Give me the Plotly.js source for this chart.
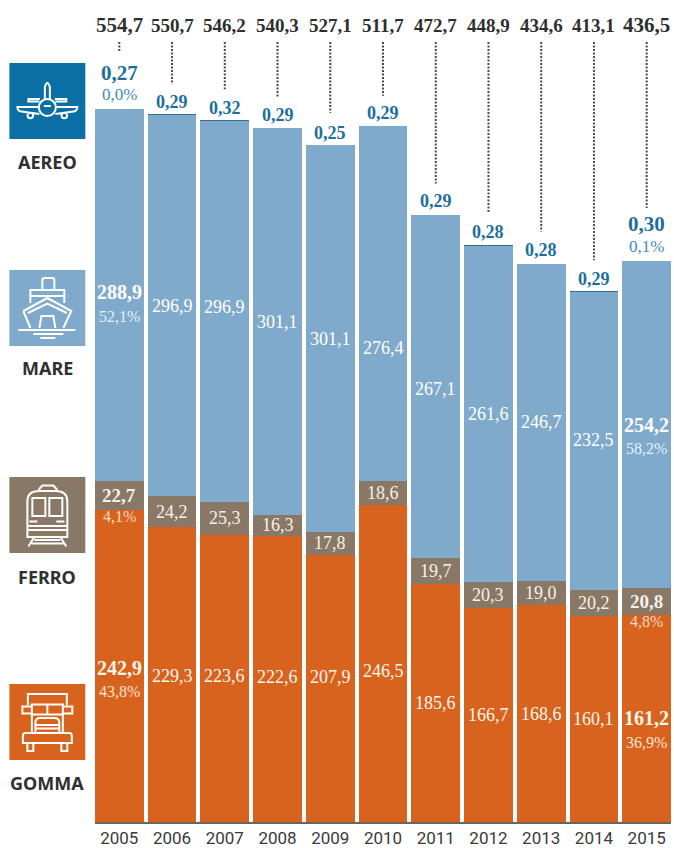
<!DOCTYPE html>
<html lang="it">
<head>
<meta charset="utf-8">
<title>Trasporto merci per modalità</title>
<script src="https://cdn.plot.ly/plotly-3.0.1.min.js"></script>
<style>html,body{margin:0;padding:0;background:#fff}#chart{width:674px;height:848px}</style>
</head>
<body>
<div id="chart"></div>
<script>
// Traffico merci per modalità di trasporto, 2005-2015
const years = ["2005","2006","2007","2008","2009","2010","2011","2012","2013","2014","2015"];
const gomma = [242.9,229.3,223.6,222.6,207.9,246.5,185.6,166.7,168.6,160.1,161.2];
const ferro = [22.7,24.2,25.3,16.3,17.8,18.6,19.7,20.3,19.0,20.2,20.8];
const mare = [288.9,296.9,296.9,301.1,301.1,276.4,267.1,261.6,246.7,232.5,254.2];
const aereo = [0.27,0.29,0.32,0.29,0.25,0.29,0.29,0.28,0.28,0.29,0.30];
const totali = ["554,7","550,7","546,2","540,3","527,1","511,7","472,7","448,9","434,6","413,1","436,5"];
const quote2005 = {aereo:"0,0%", mare:"52,1%", ferro:"4,1%", gomma:"43,8%"};
const quote2015 = {aereo:"0,1%", mare:"58,2%", ferro:"4,8%", gomma:"36,9%"};

// Geometria della pagina e dell'area del grafico
const W = 674, H = 848, L = 94.7, R = 671.3, BASE = 822, PX_PER_UNIT = 1.285;
const pw = R - L;
const paperX = px => (px - L) / pw;
const paperY = py => 1 - py / BASE;
const dataY = py => (BASE - py) / PX_PER_UNIT;

const COL = {aereo:"#0b6ea4", mare:"#7faacb", ferro:"#8a7867", gomma:"#d8631e", top:"#2f6f96",
             ink:"#2f2f2f", teal:"#1c6f9b", tealSoft:"#3c8cb6"};
const SERIF = "'Liberation Serif', serif";
const SANS = "'Noto Sans', sans-serif";

const fmt = (v, d) => v.toFixed(d).replace(".", ",");

const bar = (name, y, color) => ({type:"bar", name, x:years, y, marker:{color, line:{width:0}}, hoverinfo:"skip"});
const traces = [bar("Gomma",gomma,COL.gomma), bar("Ferro",ferro,COL.ferro), bar("Mare",mare,COL.mare), bar("Aereo",aereo,COL.top)];

const stackTop = years.map((_, i) => gomma[i] + ferro[i] + mare[i] + aereo[i]);
const mareBase = years.map((_, i) => gomma[i] + ferro[i]);

const annotations = [];
const label = (i, y, text, size, color, bold, yshift) => annotations.push({
  xref:"x", yref:"y", x:i, y, text: bold ? "<b>" + text + "</b>" : text, showarrow:false,
  xanchor:"center", yanchor:"middle", yshift: yshift || 0,
  font:{family:SERIF, size, color}
});

// Scostamenti verticali in pixel delle etichette rispetto al centro del segmento
const shiftMare  = [3,-1,4,0,0,-44,-2,0,0,1,0];
const shiftGomma = [-2,-1,2,2,11,-7,0,0,0,0,0];
const gapAereo   = [36,12,12,13,12,13,14,13,14,12,37];
const gapLeader  = [57,30,31,31,32,30,31,33,32,31,53];

years.forEach((yr, i) => {
  const big = i === 0 || i === 10;
  label(i, dataY(25), totali[i], big ? 21 : 19, COL.ink, true);
  label(i, stackTop[i], fmt(aereo[i], 2), big ? 21 : 18, COL.teal, true, gapAereo[i]);
  label(i, mareBase[i] + mare[i] / 2, fmt(mare[i], 1), big ? 20 : 18, "#ffffff", big, shiftMare[i]);
  label(i, gomma[i] + ferro[i] / 2, fmt(ferro[i], 1), big ? 19 : 18, "#f6f1ea", big, 0);
  label(i, gomma[i] / 2, fmt(gomma[i], 1), big ? 20 : 18, "#fff6ee", big, shiftGomma[i]);
});

[[quote2005, 0, 3, -2], [quote2015, 10, 0, 0]].forEach(([q, i, sm, sg]) => {
  label(i, stackTop[i], q.aereo, 17, COL.tealSoft, false, 15);
  label(i, mareBase[i] + mare[i] / 2, q.mare, 16, "#e6f0f7", false, sm - 24);
  label(i, gomma[i], q.ferro, 16, "#fbd9c0", false, -7);
  label(i, gomma[i] / 2, q.gomma, 16, "#fbe4d2", false, sg - 24);
});

// Filetti punteggiati dal totale al segmento aereo
const shapes = years.map((yr, i) => ({
  type:"line", xref:"x", yref:"y", x0:i, x1:i,
  y0:dataY(42), y1:stackTop[i] + gapLeader[i] / PX_PER_UNIT,
  line:{color:"#4a4a4a", width:2, dash:"2px,1.5px"}
}));

// Riquadri e pittogrammi della colonna sinistra
const TILE = 76, TILE_X = 9;
const circle = (cx, cy, r) => {
  const k = 0.552 * r;
  return `M${cx - r} ${cy} C${cx - r} ${cy - k} ${cx - k} ${cy - r} ${cx} ${cy - r} ` +
         `C${cx + k} ${cy - r} ${cx + r} ${cy - k} ${cx + r} ${cy} ` +
         `C${cx + r} ${cy + k} ${cx + k} ${cy + r} ${cx} ${cy + r} ` +
         `C${cx - k} ${cy + r} ${cx - r} ${cy + k} ${cx - r} ${cy} Z `;
};
const icons = {
  aereo: "M35.5 36 L35.5 24 Q38 16 40.5 24 L40.5 36 M30.5 36 L19 36 L19 38.5 L30 38.5 M45.5 36 L57 36 L57 38.5 L46 38.5 " +
         circle(38, 44.5, 8.5) + "M34.5 43 L41.5 43 M29.5 44 L8 44 Q8 48 12 48.5 L30 51 M46.5 44 L68 44 Q68 48 64 48.5 L46 51 " +
         circle(21, 52.5, 2.8) + circle(55, 52.5, 2.8),
  mare: "M33 20 L33 10 Q33 8 35 8 L43 8 Q45 8 45 10 L45 20 M21 33 L21 20 L55 20 L55 33 M22 26 L54 26 " +
        "M14 41 L38 28 L62 41 L54 58 M14 41 L21 58 M18.5 43 L38 33.5 L57.5 43 M30 58 L32 46 L44 46 L46 58 " +
        "M9 60 L66 60 M24 64 L54 64 M31 68 L46 68",
  ferro: "M29 13 L33 8.5 L44 8.5 L48 13 M18 60 L18 24 Q18 14 30 14 L46 14 Q58 14 58 24 L58 60 Z " +
         "M23 21 L36 21 L36 39 L23 39 Z M40 21 L53 21 L53 39 L40 39 Z " +
         "M20 44.5 L28 44.5 M47 44.5 L55 44.5 M18 49 L58 49 M18 53 L58 53 " +
         "M25 60 L19 69.5 M51 60 L57 69.5 M25 63 L51 63 M22 66.5 L54 66.5",
  gomma: "M18.5 21 L18.5 10 L57.5 10 L57.5 21 M22.5 20.5 L53.5 20.5 L53.5 30.5 L22.5 30.5 Z M38 20.5 L38 30.5 " +
         "M22.5 22.5 L13 22.5 L13 29.5 L22.5 29.5 M53.5 22.5 L63 22.5 L63 29.5 L53.5 29.5 " +
         "M22.5 30.5 L22.5 49 M53.5 30.5 L53.5 49 " +
         "M26 49 L26 39 Q26 34 31 34 L45 34 Q50 34 50 39 L50 49 M26 41 L50 41 M26 44.5 L50 44.5 " +
         "M22.5 49 L16 49 Q13.5 49 13.5 52 L13.5 59 L62.5 59 L62.5 52 Q62.5 49 60 49 L22.5 49 " +
         "M18 59 L18 67 L24 67 L24 59 M52 59 L52 67 L58 67 L58 59"
};
const toPaper = (d, ox, oy) => d.replace(/(-?[\d.]+) (-?[\d.]+)/g, (_, a, b) =>
  paperX(+a + ox).toFixed(5) + " " + paperY(+b + oy).toFixed(5));

const legend = [
  {key:"aereo", top:63,  label:"AEREO", ly:162},
  {key:"mare",  top:270, label:"MARE",  ly:368},
  {key:"ferro", top:477, label:"FERRO", ly:577},
  {key:"gomma", top:684, label:"GOMMA", ly:783}
];
legend.forEach(t => {
  shapes.push({type:"rect", xref:"paper", yref:"paper",
    x0:paperX(TILE_X), x1:paperX(TILE_X + TILE), y0:paperY(t.top), y1:paperY(t.top + TILE),
    fillcolor:COL[t.key], line:{width:0}});
  shapes.push({type:"path", xref:"paper", yref:"paper", path:toPaper(icons[t.key], TILE_X, t.top),
    line:{color:"#ffffff", width:2}, fillcolor:"rgba(0,0,0,0)"});
  annotations.push({xref:"paper", yref:"paper", x:paperX(47), y:paperY(t.ly), text:"<b>" + t.label + "</b>",
    showarrow:false, xanchor:"center", yanchor:"middle", font:{family:SANS, size:18, color:"#2f3033"}});
});

const layout = {
  width:W, height:H, margin:{l:L, r:W - R, t:0, b:H - BASE, pad:0},
  paper_bgcolor:"#ffffff", plot_bgcolor:"#ffffff",
  barmode:"stack", bargap:0.078, showlegend:false,
  xaxis:{type:"category", range:[-0.461, 10.461], fixedrange:true, showgrid:false, zeroline:false,
         showline:true, linecolor:"#6b6560", linewidth:1.5, ticks:"", ticklen:0,
         tickfont:{family:"Roboto, sans-serif", size:17, color:"#3a3a3a"}},
  yaxis:{visible:false, range:[0, BASE / PX_PER_UNIT], fixedrange:true},
  shapes, annotations
};
Plotly.newPlot("chart", traces, layout, {displayModeBar:false, staticPlot:true});
</script>
</body>
</html>
